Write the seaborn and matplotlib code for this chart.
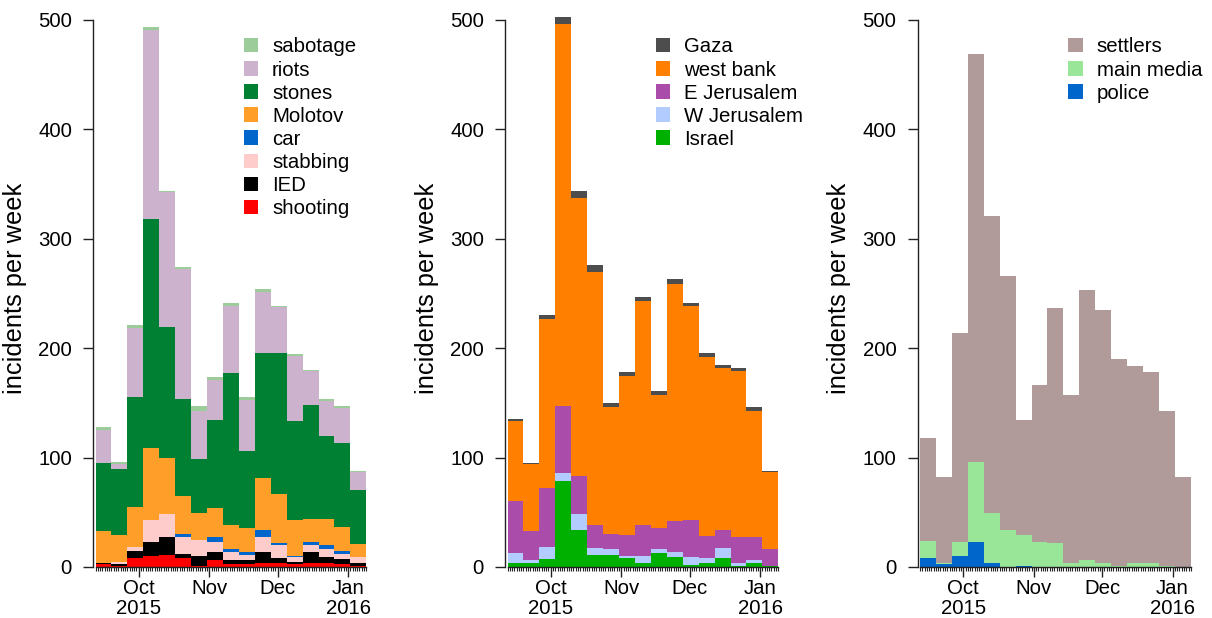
import numpy as np
import pandas as pd
import matplotlib
matplotlib.use("Agg")
import matplotlib.pyplot as plt
import matplotlib.dates as mdates
from matplotlib.ticker import FixedLocator
import seaborn as sns

sns.set_style("ticks")
plt.rcParams["font.family"] = ["Liberation Sans", "DejaVu Sans"]
plt.rcParams["text.color"] = "black"
plt.rcParams["axes.labelcolor"] = "black"
plt.rcParams["xtick.color"] = "#222222"
plt.rcParams["ytick.color"] = "#222222"
plt.rcParams["xtick.labelcolor"] = "black"
plt.rcParams["ytick.labelcolor"] = "black"

week_start = pd.date_range("2015-09-12", periods=17, freq="7D")

# panel 1: incident type (weekly counts)
sabotage = [3, 2, 3, 3, 1, 2, 4, 3, 2, 2, 3, 1, 2, 1, 2, 2, 1]
riots = [30, 4, 63, 173, 124, 118, 44, 37, 62, 47, 55, 42, 60, 31, 32, 32, 17]
stones = [62, 61, 100, 209, 119, 89, 50, 80, 139, 70, 115, 129, 90, 104, 76, 76, 49]
molotov = [29, 24, 37, 66, 52, 35, 24, 27, 22, 22, 47, 45, 33, 21, 24, 22, 12]
car = [0, 0, 0, 0, 0, 3, 0, 4, 2, 3, 7, 2, 1, 3, 4, 3, 0]
stabbing = [0, 2, 3, 20, 21, 15, 15, 9, 8, 5, 13, 12, 4, 6, 7, 5, 5]
ied = [1, 2, 7, 13, 16, 4, 9, 8, 3, 3, 10, 4, 2, 10, 5, 4, 3]
shooting = [3, 1, 8, 10, 11, 8, 1, 6, 3, 3, 4, 4, 3, 4, 4, 3, 1]

# panel 2: location
gaza = [2, 1, 3, 7, 7, 6, 4, 3, 4, 4, 4, 2, 4, 3, 3, 3, 1]
west_bank = [73, 61, 155, 349, 254, 232, 116, 146, 205, 121, 217, 196, 164, 148, 152, 116, 71]
e_jerusalem = [47, 27, 54, 61, 35, 21, 14, 19, 28, 20, 28, 34, 20, 17, 23, 21, 15]
w_jerusalem = [9, 2, 11, 7, 14, 6, 5, 2, 6, 3, 5, 7, 4, 9, 3, 2, 0]
israel = [4, 4, 7, 79, 34, 11, 11, 8, 4, 13, 9, 2, 4, 8, 1, 4, 1]

# panel 3: source
settlers = [94, 78, 191, 373, 272, 232, 105, 143, 215, 153, 247, 231, 189, 180, 174, 142, 82]
main_media = [16, 1, 13, 73, 45, 34, 28, 23, 22, 4, 6, 4, 1, 4, 4, 1, 0]
police = [8, 3, 10, 23, 4, 0, 1, 0, 0, 0, 0, 0, 0, 0, 0, 0, 0]

panels = [
    {"sabotage": sabotage, "riots": riots, "stones": stones, "Molotov": molotov,
     "car": car, "stabbing": stabbing, "IED": ied, "shooting": shooting},
    {"Gaza": gaza, "west bank": west_bank, "E Jerusalem": e_jerusalem,
     "W Jerusalem": w_jerusalem, "Israel": israel},
    {"settlers": settlers, "main media": main_media, "police": police},
]
colors = [
    ["#9bcc9a", "#ccb2cc", "#008033", "#ff9f2a", "#0066cc", "#ffcccc", "#000000", "#ff0000"],
    ["#4d4d4d", "#ff8000", "#aa4caa", "#b3ccff", "#00b000"],
    ["#b09a9a", "#99e699", "#0066cc"],
]

edges = mdates.date2num(week_start.append(pd.DatetimeIndex([week_start[-1] + pd.Timedelta(days=7)])))
edges = [float(e) for e in edges]
centers = [e + 3.5 for e in edges[:-1]]
oct1 = mdates.date2num(pd.Timestamp("2015-10-01"))
months = mdates.date2num(pd.to_datetime(["2015-10-01", "2015-11-01", "2015-12-01", "2016-01-01"]))
month_labels = ["Oct\n2015", "Nov", "Dec", "Jan\n2016"]

fig = plt.figure(figsize=(12.12, 6.18), dpi=100)
W, H = 1212, 618
lefts = [93, 505, 917.5]

for left, series, cols in zip(lefts, panels, colors):
    ax = fig.add_axes([left / W, 1 - 567 / H, 279 / W, 558 / H])
    rows = []
    for name, vals in series.items():
        for c, v in zip(centers, vals):
            rows.append({"day": c, "kind": name, "count": v})
    df = pd.DataFrame(rows)
    order = list(series.keys())
    sns.histplot(data=df, x="day", weights="count", hue="kind", hue_order=order,
                 palette=cols, multiple="stack", bins=edges, element="bars",
                 linewidth=0, alpha=1, ax=ax, legend=True)
    ax.set_xlim(oct1 - 20.1, oct1 + 102.5)
    ax.set_ylim(0, 510)
    ax.set_yticks([0, 100, 200, 300, 400, 500])
    ax.xaxis.set_major_locator(FixedLocator(months))
    ax.set_xticklabels(month_labels, linespacing=1.0)
    ax.xaxis.set_minor_locator(FixedLocator(np.arange(edges[0], edges[-1] + 0.5, 1)))
    ax.tick_params(axis="x", which="major", direction="out", length=7, width=1,
                   labelsize=14.7, pad=2, bottom=True)
    ax.tick_params(axis="x", which="minor", direction="out", length=3, width=0.8, bottom=True)
    ax.tick_params(axis="y", which="major", direction="out", length=7.2, width=1,
                   labelsize=14.7, pad=8, left=True)
    for s in ["top", "right"]:
        ax.spines[s].set_visible(False)
    ax.spines["left"].set_bounds(0, 500)
    ax.spines["bottom"].set_bounds(edges[0], edges[-1])
    for s in ["left", "bottom"]:
        ax.spines[s].set_color("#222222")
        ax.spines[s].set_linewidth(1)
    ax.set_xlabel("")
    ax.set_ylabel("incidents per week", fontsize=18.3, labelpad=8)
    sns.move_legend(ax, "upper left", bbox_to_anchor=(0.541, 0.949), frameon=False,
                    title=None, fontsize=14.7, handlelength=0.7, handleheight=0.7,
                    handletextpad=0.68, labelspacing=0.2, borderaxespad=0, borderpad=0)

fig.savefig("out.png", dpi=100)
